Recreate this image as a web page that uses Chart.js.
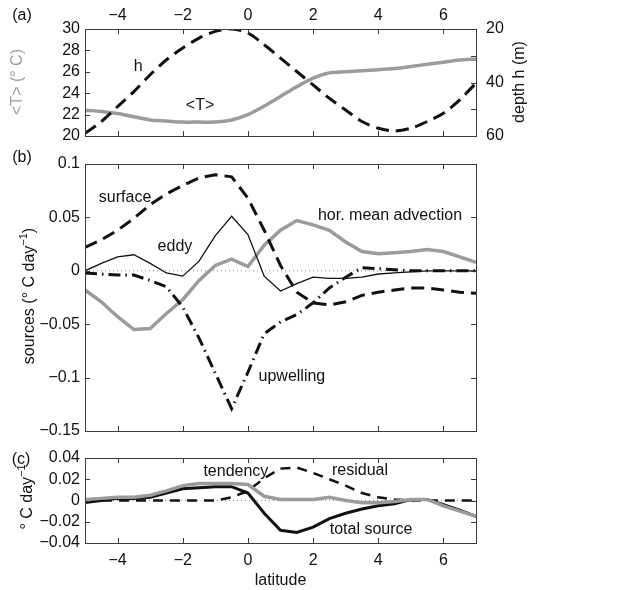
<!DOCTYPE html>
<html>
<head>
<meta charset="utf-8">
<title>Mixed layer heat budget</title>
<script src="https://cdn.jsdelivr.net/npm/chart.js@4.4.1/dist/chart.umd.min.js"></script>
<style>
    html, body { margin: 0; padding: 0; background: #fff; }
    #wrap { position: relative; width: 625px; height: 590px; }
    #wrap canvas { position: absolute; left: 0; top: 0; }
</style>
</head>
<body>
<div id="wrap">
    <canvas id="chartA" width="625" height="590"></canvas>
    <canvas id="chartB" width="625" height="590"></canvas>
    <canvas id="chartC" width="625" height="590"></canvas>
</div>
<script>
// ====== Data ======
const latitude = [-5, -4.5, -4, -3.5, -3, -2.5, -2, -1.5, -1, -0.5, 0, 0.5, 1,
    1.5, 2, 2.5, 3, 3.5, 4, 4.5, 5, 5.5, 6, 6.5, 7];

// (a) mean temperature (deg C) and mixed layer depth (m)
const meanTemp = [22.4, 22.3, 22.1, 21.8, 21.5, 21.4, 21.3, 21.3, 21.3, 21.5, 22.0, 22.8, 23.7,
    24.6, 25.4, 25.9, 26.0, 26.1, 26.2, 26.3, 26.5, 26.7, 26.9, 27.1, 27.2];
const mixedDepth = [59.0, 54.6, 49.0, 43.4, 37.1, 31.5, 27.1, 23.4, 20.9, 20.0, 21.5, 25.9, 30.9,
    35.9, 40.9, 45.9, 50.3, 54.6, 57.1, 58.1, 57.1, 54.6, 51.5, 46.5, 40.2];

// (b) sources (deg C / day)
const surfaceFlux = [0.022, 0.029, 0.038, 0.049, 0.062, 0.072, 0.080, 0.087, 0.090, 0.088, 0.068, 0.038, 0.005,
    -0.020, -0.030, -0.032, -0.029, -0.023, -0.020, -0.018, -0.016, -0.016, -0.018, -0.020, -0.021];
const eddyFlux = [0, 0.007, 0.013, 0.015, 0.007, -0.002, -0.005, 0.009, 0.033, 0.051, 0.034, -0.005, -0.019,
    -0.012, -0.006, -0.007, -0.007, -0.006, -0.003, -0.002, -0.001, 0, 0, 0, 0];
const horAdvection = [-0.018, -0.029, -0.043, -0.055, -0.054, -0.040, -0.027, -0.009, 0.005, 0.011, 0.004, 0.024, 0.038,
    0.047, 0.043, 0.038, 0.027, 0.018, 0.016, 0.017, 0.018, 0.020, 0.018, 0.013, 0.008];
const upwelling = [-0.002, -0.003, -0.004, -0.004, -0.009, -0.015, -0.034, -0.063, -0.096, -0.129, -0.095, -0.059, -0.048,
    -0.041, -0.030, -0.016, -0.006, 0.003, 0.002, 0.001, 0, 0, 0, 0, 0];

// (c) budget (deg C / day)
const tendency = [0.001, 0.002, 0.003, 0.003, 0.005, 0.009, 0.014, 0.016, 0.016, 0.016, 0.015, 0.004, 0.001,
    0.001, 0.001, 0.003, 0, -0.002, -0.002, -0.001, 0.001, 0.001, -0.005, -0.010, -0.015];
const totalSource = [-0.002, 0, 0.002, 0.002, 0.003, 0.007, 0.011, 0.012, 0.013, 0.013, 0.007, -0.012, -0.028,
    -0.030, -0.025, -0.017, -0.012, -0.008, -0.005, -0.003, 0.001, 0.001, -0.004, -0.009, -0.015];
const residual = [0.001, 0, 0, 0, 0, 0, 0, 0, 0, 0.003, 0.009, 0.021, 0.030,
    0.031, 0.026, 0.020, 0.014, 0.007, 0.003, 0.001, 0, 0, 0, 0, 0];

// ====== Tick labels ======
const latTicks = [-4, -2, 0, 2, 4, 6];
const tempTicks = [20, 22, 24, 26, 28, 30];
const depthTicks = [20, 40, 60];
const depthMinorTicks = [20, 30, 40, 50, 60];
const sourceTicks = [-0.15, -0.1, -0.05, 0, 0.05, 0.1];
const budgetTicks = [-0.04, -0.02, 0, 0.02, 0.04];

// ====== Styles ======
const FONT = "'Liberation Sans', Arial, Helvetica, sans-serif";
const FONT_SIZE = 16;
const GRAY = "#9b9b9b";
const BLACK = "#111111";
const AXIS = "#3a3a3a";
const TICK_LEN = 5;
const PLOT_LEFT = 85;     // px, same for all panels
const RIGHT_GAP = 149;    // canvas width - plot right

Chart.defaults.font.family = FONT;
Chart.defaults.font.size = FONT_SIZE;
Chart.defaults.color = BLACK;

// ====== Utilities ======
const points = (values) => latitude.map((x, i) => ({ x, y: values[i] }));
const zeroLine = () => [{ x: latitude[0], y: 0 }, { x: latitude[latitude.length - 1], y: 0 }];
const fmt = (v) => (v < 0 ? "\u2212" : "") + Math.abs(v);

function fixedTicks(list) {
    return (scale) => { scale.ticks = list.map((value) => ({ value })); };
}

function line(data, color, width, dash, extra) {
    return Object.assign({
        data, borderColor: color, borderWidth: width, borderDash: dash || [],
        pointRadius: 0, fill: false, tension: 0
    }, extra || {});
}

function drawRotated(ctx, t) {
    ctx.save();
    ctx.translate(t.x, t.y);
    ctx.rotate(-Math.PI / 2);
    ctx.fillStyle = t.color || BLACK;
    ctx.textBaseline = "middle";
    ctx.textAlign = "left";
    const widths = t.parts.map((p) => {
        ctx.font = `${p.sup ? 11 : FONT_SIZE}px ${FONT}`;
        return ctx.measureText(p.text).width;
    });
    let cx = -widths.reduce((a, b) => a + b, 0) / 2;
    t.parts.forEach((p, i) => {
        ctx.font = `${p.sup ? 11 : FONT_SIZE}px ${FONT}`;
        ctx.fillText(p.text, cx, p.sup ? -6 : 0);
        cx += widths[i];
    });
    ctx.restore();
}

// Box with inward ticks, panel letter, rotated titles and curve labels
const framePlugin = {
    id: "frame",
    afterDraw(chart, args, opts) {
        const { ctx, chartArea: a } = chart;
        const xs = chart.scales.x;
        const yl = chart.scales.y;
        const yr = chart.scales.y2;
        ctx.save();
        ctx.strokeStyle = AXIS;
        ctx.lineWidth = 1;
        ctx.strokeRect(Math.round(a.left) + 0.5, Math.round(a.top) + 0.5,
            Math.round(a.right - a.left), Math.round(a.bottom - a.top));
        ctx.beginPath();
        latTicks.forEach((v) => {
            const p = Math.round(xs.getPixelForValue(v)) + 0.5;
            ctx.moveTo(p, a.top); ctx.lineTo(p, a.top + TICK_LEN);
            ctx.moveTo(p, a.bottom); ctx.lineTo(p, a.bottom - TICK_LEN);
        });
        opts.leftTicks.forEach((v) => {
            const p = Math.round(yl.getPixelForValue(v)) + 0.5;
            ctx.moveTo(a.left, p); ctx.lineTo(a.left + TICK_LEN, p);
            if (!yr) { ctx.moveTo(a.right, p); ctx.lineTo(a.right - TICK_LEN, p); }
        });
        if (yr) {
            opts.rightTicks.forEach((v) => {
                const p = Math.round(yr.getPixelForValue(v)) + 0.5;
                ctx.moveTo(a.right, p); ctx.lineTo(a.right - TICK_LEN, p);
            });
        }
        ctx.stroke();

        ctx.fillStyle = BLACK;
        ctx.font = `${FONT_SIZE}px ${FONT}`;
        ctx.textAlign = "center";
        ctx.textBaseline = "middle";
        ctx.fillText(opts.panel.text, opts.panel.x, opts.panel.y);
        opts.notes.forEach((n) => {
            const ys = chart.scales[n.axis || "y"];
            ctx.fillText(n.text, xs.getPixelForValue(n.lat), ys.getPixelForValue(n.val));
        });
        ctx.restore();
        opts.titles.forEach((t) => drawRotated(ctx, t));
    }
};

function yScale(min, max, ticks, extra) {
    return Object.assign({
        type: "linear", position: "left", min, max,
        grid: { display: false, drawTicks: false },
        border: { display: false },
        ticks: { padding: 5, autoSkip: false, callback: fmt },
        afterBuildTicks: fixedTicks(ticks),
        afterFit: (s) => { s.width = PLOT_LEFT; }
    }, extra || {});
}

function xScale(extra) {
    return Object.assign({
        type: "linear", min: -5, max: 7,
        grid: { display: false, drawTicks: false },
        border: { display: false },
        ticks: { padding: 4, autoSkip: false, maxRotation: 0, callback: fmt },
        afterBuildTicks: fixedTicks(latTicks)
    }, extra || {});
}

const baseOptions = (padding) => ({
    responsive: false,
    animation: false,
    devicePixelRatio: 1,
    events: [],
    layout: { padding },
    plugins: { legend: { display: false }, tooltip: { enabled: false } }
});

// ====== Panel (a) ======
const optsA = baseOptions({ top: 0, bottom: 454, left: 0, right: 0 });
optsA.scales = {
    x: xScale({ position: "top", afterFit: (s) => { s.height = 29; } }),
    y: yScale(20, 30, tempTicks),
    y2: yScale(20, 60, depthTicks, {
        position: "right", reverse: true,
        ticks: { padding: 10, autoSkip: false, callback: fmt },
        afterFit: (s) => { s.width = RIGHT_GAP; }
    })
};
optsA.plugins.frame = {
    panel: { text: "(a)", x: 22, y: 16 },
    leftTicks: tempTicks,
    rightTicks: depthMinorTicks,
    notes: [
        { text: "h", lat: -3.37, val: 26.5 },
        { text: "<T>", lat: -1.47, val: 22.8 }
    ],
    titles: [
        { x: 18, y: 82, color: GRAY, parts: [{ text: "<T> (\u00B0 C)" }] },
        { x: 520, y: 82, parts: [{ text: "depth h (m)" }] }
    ]
};
new Chart(document.getElementById("chartA"), {
    type: "line",
    data: {
        datasets: [
            line(points(mixedDepth), BLACK, 3, [13, 7], { yAxisID: "y2", tension: 0.3 }),
            line(points(meanTemp), GRAY, 3.5, [], { yAxisID: "y", tension: 0.3 })
        ]
    },
    options: optsA,
    plugins: [framePlugin]
});

// ====== Panel (b) ======
const optsB = baseOptions({ top: 164, bottom: 159, left: 0, right: RIGHT_GAP });
optsB.scales = {
    x: xScale({ display: false }),
    y: yScale(-0.15, 0.1, sourceTicks)
};
optsB.plugins.frame = {
    panel: { text: "(b)", x: 22, y: 158 },
    leftTicks: sourceTicks,
    notes: [
        { text: "surface", lat: -3.77, val: 0.069 },
        { text: "eddy", lat: -2.24, val: 0.023 },
        { text: "hor. mean advection", lat: 4.36, val: 0.052 },
        { text: "upwelling", lat: 1.35, val: -0.099 }
    ],
    titles: [
        { x: 30, y: 296, parts: [{ text: "sources (\u00B0 C day" }, { text: "\u22121", sup: true }, { text: ")" }] }
    ]
};
new Chart(document.getElementById("chartB"), {
    type: "line",
    data: {
        datasets: [
            line(points(surfaceFlux), BLACK, 3, [13, 7]),
            line(points(upwelling), BLACK, 3, [12, 5, 1.5, 5]),
            line(points(eddyFlux), BLACK, 1.3),
            line(points(horAdvection), GRAY, 3.5),
            line(zeroLine(), "#888888", 1, [1, 3])
        ]
    },
    options: optsB,
    plugins: [framePlugin]
});

// ====== Panel (c) ======
const optsC = baseOptions({ top: 458, bottom: 0, left: 0, right: RIGHT_GAP });
optsC.scales = {
    x: xScale({
        position: "bottom",
        ticks: { padding: 8, autoSkip: false, maxRotation: 0, callback: fmt },
        title: { display: true, text: "latitude", padding: 0, font: { size: FONT_SIZE } },
        afterFit: (s) => { s.height = 47; }
    }),
    y: yScale(-0.04, 0.04, budgetTicks)
};
optsC.plugins.frame = {
    panel: { text: "(c)", x: 21, y: 460 },
    leftTicks: budgetTicks,
    notes: [
        { text: "tendency", lat: -0.37, val: 0.027 },
        { text: "residual", lat: 3.44, val: 0.028 },
        { text: "total source", lat: 3.78, val: -0.027 }
    ],
    titles: [
        { x: 28, y: 497, parts: [{ text: "\u00B0 C day" }, { text: "\u22121", sup: true }] }
    ]
};
new Chart(document.getElementById("chartC"), {
    type: "line",
    data: {
        datasets: [
            line(points(tendency), GRAY, 3.5),
            line(points(totalSource), BLACK, 3),
            line(points(residual), BLACK, 2.5, [10, 7]),
            line(zeroLine(), "#888888", 1, [1, 3])
        ]
    },
    options: optsC,
    plugins: [framePlugin]
});
</script>
</body>
</html>
